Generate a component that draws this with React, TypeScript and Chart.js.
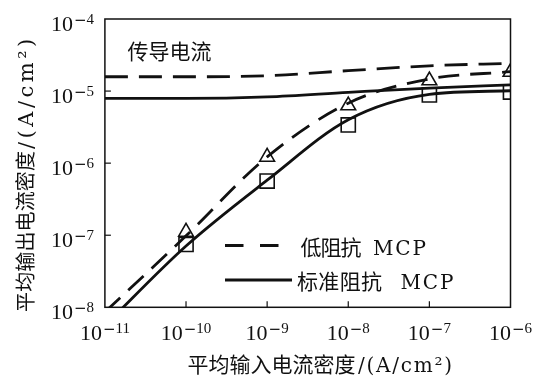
import React, { useEffect, useRef } from 'react';
import { Chart, registerables } from 'chart.js';

Chart.register(...registerables);

// ---- data ----
const xTickValues = [1e-11, 1e-10, 1e-9, 1e-8, 1e-7, 1e-6];
const xTickExponents = ['11', '10', '9', '8', '7', '6'];
const yTickValues = [1e-8, 1e-7, 1e-6, 1e-5, 1e-4];
const yTickExponents = ['8', '7', '6', '5', '4'];

const lineX = [1e-11, 1e-10, 1e-9, 1e-8, 1e-7, 1e-6];
const lowConduction = [1.58e-5, 1.58e-5, 1.63e-5, 1.92e-5, 2.24e-5, 2.43e-5];
const stdConduction = [7.9e-6, 7.9e-6, 8.3e-6, 9.6e-6, 1.1e-5, 1.22e-5];
const lowOutput = [8.6e-9, 9.8e-8, 1.22e-6, 6.8e-6, 1.47e-5, 1.86e-5];
const stdOutput = [5.6e-9, 7.1e-8, 5.8e-7, 4.0e-6, 9.0e-6, 1.01e-5];

const markerX = [1e-10, 1e-9, 1e-8, 1e-7, 1e-6];
const lowMarkers = [1.11e-7, 1.22e-6, 6.3e-6, 1.4e-5, 1.84e-5];
const stdMarkers = [7.45e-8, 5.65e-7, 3.39e-6, 8.83e-6, 9.7e-6];

const xTitleCJK = '平均输入电流密度';
const yTitleCJK = '平均输出电流密度';
const titleUnit = '/(A/cm²)';
const annotationText = '传导电流';
const legendCJK = ['低阻抗', '标准阻抗'];
const legendSuffix = 'MCP';

const INK = '#111111';
const CJK = '"Noto Sans CJK SC"';
const SERIF = '"Liberation Serif"';
const WIDE_SERIF = '"DejaVu Serif"';

function pts(xs: number[], ys: number[]) {
  return xs.map((x, i) => ({ x, y: ys[i] }));
}

function fitText(ctx: any, text: string, font: string, x: number, y: number, target: number, maxLs = 99) {
  ctx.font = font;
  ctx.letterSpacing = '0px';
  const w = ctx.measureText(text).width;
  const n = Array.from(text).length;
  let ls = n > 1 ? (target - w) / (n - 1) : 0;
  ls = Math.max(-2, Math.min(maxLs, ls));
  ctx.letterSpacing = ls + 'px';
  ctx.textAlign = 'left';
  ctx.fillText(text, x, y);
  ctx.letterSpacing = '0px';
}

function powerLabel(ctx: any, exp: string, x: number, baseline: number, align: 'center' | 'left') {
  const bigFont = '22px ' + SERIF;
  const minusFont = '15px "DejaVu Sans"';
  const smallFont = '15px ' + SERIF;
  ctx.letterSpacing = '0px';
  ctx.textAlign = 'left';
  ctx.font = bigFont;
  const w1 = ctx.measureText('10').width;
  ctx.font = minusFont;
  const w2 = ctx.measureText('−').width;
  ctx.font = smallFont;
  const w3 = ctx.measureText(exp).width;
  const gap = 1;
  const total = w1 + gap + w2 + w3;
  let sx = align === 'center' ? x - total / 2 : x;
  ctx.font = bigFont;
  ctx.fillText('10', sx, baseline);
  sx += w1 + gap;
  ctx.font = minusFont;
  ctx.fillText('−', sx, baseline - 6.5);
  sx += w2;
  ctx.font = smallFont;
  ctx.fillText(exp, sx, baseline - 7);
}

const decorPlugin = {
  id: 'decor',
  afterDraw(chart: any) {
    const ctx = chart.ctx;
    const { left, right, top, bottom } = chart.chartArea;
    const xs = chart.scales.x;
    const ys = chart.scales.y;
    ctx.save();
    ctx.fillStyle = INK;
    ctx.strokeStyle = INK;

    // frame
    ctx.lineWidth = 1.5;
    ctx.setLineDash([]);
    ctx.strokeRect(left, top, right - left, bottom - top);

    // inward ticks
    ctx.lineWidth = 1.2;
    xTickValues.forEach((v) => {
      const px = xs.getPixelForValue(v);
      if (px > left + 2 && px < right - 2) {
        ctx.beginPath();
        ctx.moveTo(px, bottom);
        ctx.lineTo(px, bottom - 6);
        ctx.stroke();
      }
    });
    yTickValues.forEach((v) => {
      const py = ys.getPixelForValue(v);
      if (py > top + 2 && py < bottom - 2) {
        ctx.beginPath();
        ctx.moveTo(left, py);
        ctx.lineTo(left + 6, py);
        ctx.stroke();
      }
    });

    // tick labels
    xTickValues.forEach((v, i) => {
      powerLabel(ctx, xTickExponents[i], xs.getPixelForValue(v), bottom + 33, 'center');
    });
    yTickValues.forEach((v, i) => {
      powerLabel(ctx, yTickExponents[i], 51, ys.getPixelForValue(v) + 12, 'left');
    });

    // x title
    fitText(ctx, xTitleCJK, '21px ' + CJK, 187.5, 371.5, 168);
    fitText(ctx, titleUnit, '20px ' + WIDE_SERIF, 358, 371.5, 94, 2.5);

    // y title (rotated)
    ctx.save();
    ctx.translate(33, 312);
    ctx.rotate(-Math.PI / 2);
    fitText(ctx, yTitleCJK, '20px ' + CJK, 0, 0, 161);
    fitText(ctx, titleUnit, '21px ' + WIDE_SERIF, 163, 0, 116, 3.5);
    ctx.restore();

    // annotation
    fitText(ctx, annotationText, '21px ' + CJK, 127.5, 59, 84);

    // legend
    ctx.lineWidth = 2.8;
    ctx.setLineDash([18.5, 16.5]);
    ctx.beginPath();
    ctx.moveTo(225, 245.5);
    ctx.lineTo(282, 245.5);
    ctx.stroke();
    ctx.setLineDash([]);
    ctx.beginPath();
    ctx.moveTo(225, 280);
    ctx.lineTo(292, 280);
    ctx.stroke();

    fitText(ctx, legendCJK[0], '21px ' + CJK, 300.5, 254.5, 61);
    fitText(ctx, legendSuffix, '20px ' + WIDE_SERIF, 373, 254.5, 53, 2.5);
    fitText(ctx, legendCJK[1], '21px ' + CJK, 297, 289, 85);
    fitText(ctx, legendSuffix, '20px ' + WIDE_SERIF, 400.5, 289, 53, 2.5);

    ctx.restore();
  },
};

export default function App() {
  const ref = useRef<HTMLCanvasElement | null>(null);

  useEffect(() => {
    if (!ref.current) return;
    const lineBase = {
      showLine: true,
      pointRadius: 0,
      borderColor: INK,
      backgroundColor: INK,
      borderWidth: 2.8,
      cubicInterpolationMode: 'monotone' as const,
    };
    const chart = new Chart(ref.current, {
      type: 'scatter',
      data: {
        datasets: [
          { ...lineBase, label: 'low conduction', data: pts(lineX, lowConduction), borderDash: [23, 11] },
          { ...lineBase, label: 'std conduction', data: pts(lineX, stdConduction) },
          { ...lineBase, label: 'low output', data: pts(lineX, lowOutput), borderDash: [21, 11] },
          { ...lineBase, label: 'std output', data: pts(lineX, stdOutput) },
          {
            label: 'low markers',
            data: pts(markerX, lowMarkers),
            showLine: false,
            pointStyle: 'triangle',
            pointRadius: 8.5,
            borderWidth: 1.6,
            borderColor: INK,
            backgroundColor: 'rgba(0,0,0,0)',
          },
          {
            label: 'std markers',
            data: pts(markerX, stdMarkers),
            showLine: false,
            pointStyle: 'rect',
            pointRadius: 10,
            borderWidth: 1.6,
            borderColor: INK,
            backgroundColor: 'rgba(0,0,0,0)',
          },
        ],
      },
      options: {
        animation: false,
        responsive: false,
        devicePixelRatio: 1,
        events: [],
        layout: { padding: { left: 104.9, top: 19, right: 24.5, bottom: 68.7 } },
        scales: {
          x: { type: 'logarithmic', min: 1e-11, max: 1e-6, display: false },
          y: { type: 'logarithmic', min: 1e-8, max: 1e-4, display: false },
        },
        plugins: {
          legend: { display: false },
          tooltip: { enabled: false },
        },
      },
      plugins: [decorPlugin],
    });
    return () => chart.destroy();
  }, []);

  return (
    <div style={{ position: 'fixed', left: 0, top: 0, width: 535, height: 376, background: '#fff' }}>
      <canvas ref={ref} width={535} height={376} style={{ display: 'block', width: 535, height: 376 }} />
    </div>
  );
}
